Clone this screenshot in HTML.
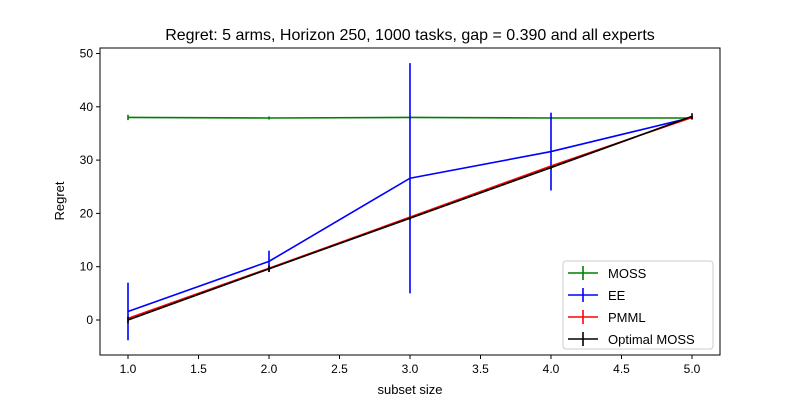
<!DOCTYPE html>
<html><head><meta charset="utf-8"><style>
body{margin:0;background:#fff;}
svg{display:block;font-family:"Liberation Sans","DejaVu Sans",sans-serif;}
</style></head><body>
<svg id="c" width="800" height="400" xmlns="http://www.w3.org/2000/svg"></svg>
<script>
const xs=[1,2,3,4,5];
const seriesNames=["MOSS","EE","PMML","Optimal MOSS"];
const colors=["#008000","#0000ff","#ff0000","#000000"];
const mossY=[38.0,37.9,38.0,37.9,37.9];
const mossErr=[0.5,0.3,0.2,0.2,0.2];
const eeY=[1.6,11.0,26.6,31.6,38.0];
const eeErr=[5.4,2.0,21.6,7.3,0.3];
const pmmlY=[0.3,9.7,19.3,28.9,38.0];
const pmmlErr=[0.2,0.2,0.2,0.2,0.2];
const optY=[0.0,9.6,19.1,28.6,38.2];
const optErr=[0.6,0.6,0.3,0.3,0.6];
const xTicks=[1.0,1.5,2.0,2.5,3.0,3.5,4.0,4.5,5.0];
const yTicks=[0,10,20,30,40,50];
const L=100,R=720,T=48,B=355;
const X=v=>128+(v-1)*141;
const Y=v=>320-v*5.33;
const svg=document.getElementById('c');
const NS="http://www.w3.org/2000/svg";
function mk(t,a,p){const e=document.createElementNS(NS,t);for(const k in a)e.setAttribute(k,a[k]);(p||svg).appendChild(e);return e;}
const title=mk('text',{x:410,y:40,'text-anchor':'middle','font-size':16,fill:'#000'});
title.textContent="Regret: 5 arms, Horizon 250, 1000 tasks, gap = 0.390 and all experts";


xTicks.forEach(t=>{
 const g=mk('g',{});
 
 
 mk('line',{x1:X(t),x2:X(t),y1:B,y2:B+4,stroke:'#000'},g);
 const tx=mk('text',{x:X(t),y:B+18,'text-anchor':'middle','font-size':12},g);tx.textContent=t.toFixed(1);
});
yTicks.forEach(t=>{
 const g=mk('g',{});
 
 
 mk('line',{x1:L-4,x2:L,y1:Y(t),y2:Y(t),stroke:'#000'},g);
 const tx=mk('text',{x:L-7,y:Y(t)+4,'text-anchor':'end','font-size':12},g);tx.textContent=t;
});
const xl=mk('text',{x:410,y:394,'text-anchor':'middle','font-size':13});xl.textContent="subset size";


const yl=mk('text',{x:64,y:201,'text-anchor':'middle','font-size':13,transform:'rotate(-90 64 201)'});yl.textContent="Regret";


const ys=[mossY,eeY,pmmlY,optY],es=[mossErr,eeErr,pmmlErr,optErr];
ys.forEach((yv,i)=>{
 const g=mk('g',{});
 
 
 mk('polyline',{points:xs.map((x,j)=>X(x)+','+Y(yv[j])).join(' '),fill:'none',stroke:colors[i],'stroke-width':1.6},g);
 xs.forEach((x,j)=>{
  const l=mk('line',{x1:X(x),x2:X(x),y1:Y(yv[j]-es[i][j]),y2:Y(yv[j]+es[i][j]),stroke:colors[i],'stroke-width':1.6},g);
  
  
 });
});
const frame=mk('rect',{x:L,y:T,width:R-L,height:B-T,fill:'none',stroke:'#000','stroke-width':1});


const lg=mk('g',{});


mk('rect',{x:563,y:261,width:150,height:88,rx:3,fill:'#fff',stroke:'#ccc'},lg);
seriesNames.forEach((n,i)=>{
 const y=273+i*22;
 const e=mk('g',{},lg);
 
 
 mk('line',{x1:568,x2:598,y1:y,y2:y,stroke:colors[i],'stroke-width':1.6},e);
 mk('line',{x1:583,x2:583,y1:y-7,y2:y+7,stroke:colors[i],'stroke-width':1.6},e);
 const t=mk('text',{x:608,y:y+5,'font-size':13},e);t.textContent=n;
});
</script>
</body></html>
